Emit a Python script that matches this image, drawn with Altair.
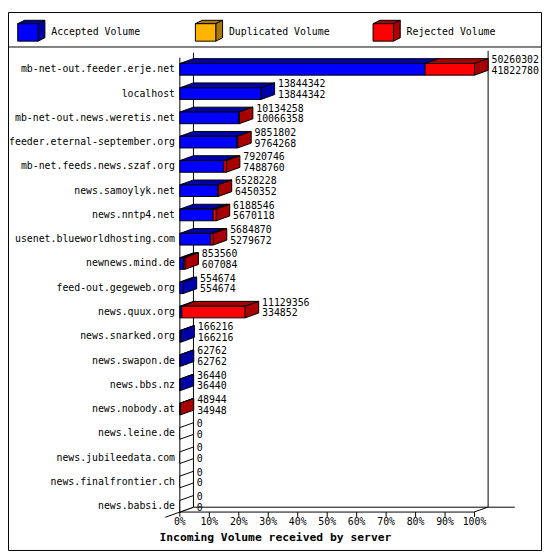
import altair as alt
import pandas as pd

# ---------------- data ----------------
servers = [
    "mb-net-out.feeder.erje.net", "localhost", "mb-net-out.news.weretis.net",
    "feeder.eternal-september.org", "mb-net.feeds.news.szaf.org", "news.samoylyk.net",
    "news.nntp4.net", "usenet.blueworldhosting.com", "newnews.mind.de",
    "feed-out.gegeweb.org", "news.quux.org", "news.snarked.org", "news.swapon.de",
    "news.bbs.nz", "news.nobody.at", "news.leine.de", "news.jubileedata.com",
    "news.finalfrontier.ch", "news.babsi.de",
]
total_volume = [50260302, 13844342, 10134258, 9851802, 7920746, 6528228, 6188546,
                5684870, 853560, 554674, 11129356, 166216, 62762, 36440, 48944,
                0, 0, 0, 0]
accepted_volume = [41822780, 13844342, 10066358, 9764268, 7488760, 6450352, 5670118,
                   5279672, 607084, 554674, 334852, 166216, 62762, 36440, 34948,
                   0, 0, 0, 0]
duplicated_volume = [0, 0, 0, 0, 0, 0, 0, 0, 0, 0, 0, 0, 0, 0, 0, 0, 0, 0, 0]

tick_values = [0, 10, 20, 30, 40, 50, 60, 70, 80, 90, 100]
legend_labels = ["Accepted Volume", "Duplicated Volume", "Rejected Volume"]
front_colors = ["#0000ff", "#ffb400", "#ff0000"]
shade_colors = ["#0000a8", "#a87800", "#a80000"]
title_text = "Incoming Volume received by server"

# ---------------- layout / style ----------------
S = 542 / 550          # overall scale of the picture
X0 = 177               # x of 0 % (reference px)
PPP = 3.035            # reference px per percent
ROW0 = 59              # centre of first row (reference px)
STEP = 25              # row pitch (reference px)
PL = X0 * S
PW = 542 - PL
PH = 515 * S
PB = 547 - PH
XMAX = (550 - X0) / PPP
RMIN = -ROW0 / STEP
RMAX = (515 - ROW0) / STEP
DX = 14 / PPP          # 3-D depth in percent units
DY = 5 / STEP          # 3-D depth in row units
HH = 6 / STEP          # half bar height in row units
FONT = "DejaVu Sans Mono"


def px(xref):
    return (xref - X0) * S


def py(yref):
    return yref * S


max_total = max(total_volume)

# ---------------- bar geometry from the data ----------------
fronts, polys, labels = [], [], []
pid = 0
for i, name in enumerate(servers):
    rej = total_volume[i] - accepted_volume[i] - duplicated_volume[i]
    segs = [(accepted_volume[i], 0), (duplicated_volume[i], 1), (rej, 2)]
    cum = 0
    last = None
    yt, yb = i - HH, i + HH
    for val, ci in segs:
        if val > 0:
            x0 = cum / max_total * 100
            x1 = (cum + val) / max_total * 100
            fronts.append(dict(x0=x0, x1=x1, y0=yt, y1=yb, c=front_colors[ci]))
            pts = [(x0, yt), (x1, yt), (x1 + DX, yt - DY), (x0 + DX, yt - DY), (x0, yt)]
            for k, (xx, yy) in enumerate(pts):
                polys.append(dict(pid=pid, k=k, x=xx, y=yy, c=shade_colors[ci]))
            pid += 1
            cum += val
            last = ci
    t = total_volume[i] / max_total * 100
    side_col = shade_colors[last] if last is not None else "#ffffff"
    pts = [(t, yt), (t + DX, yt - DY), (t + DX, yb - DY), (t, yb), (t, yt)]
    for k, (xx, yy) in enumerate(pts):
        polys.append(dict(pid=pid, k=k, x=xx, y=yy, c=side_col))
    pid += 1
    lx = t + 17.5 / PPP
    labels.append(dict(x=lx, y=i - 9.5 / STEP, text=str(total_volume[i])))
    labels.append(dict(x=lx, y=i + 1.5 / STEP, text=str(accepted_volume[i])))

front_df = pd.DataFrame(fronts)
poly_df = pd.DataFrame(polys)
label_df = pd.DataFrame(labels)
name_df = pd.DataFrame({"name": servers, "row": list(range(len(servers)))})
tick_df = pd.DataFrame({"v": tick_values, "lab": [f"{v}%" for v in tick_values]})

xs = alt.Scale(domain=[0, XMAX], nice=False, zero=False)
ys = alt.Scale(domain=[RMIN, RMAX], nice=False, zero=False, reverse=True)

top_side = alt.Chart(poly_df).mark_line(stroke="black", strokeWidth=1, interpolate="linear").encode(
    x=alt.X("x:Q", scale=xs, axis=None),
    y=alt.Y("y:Q", scale=ys, axis=None),
    detail="pid:N",
    order="k:Q",
    fill=alt.Fill("c:N", scale=None),
)

front = alt.Chart(front_df).mark_rect(stroke="black", strokeWidth=1).encode(
    x=alt.X("x0:Q", scale=xs, axis=None),
    x2="x1:Q",
    y=alt.Y("y0:Q", scale=ys, axis=None),
    y2="y1:Q",
    fill=alt.Fill("c:N", scale=None),
)

num_text = alt.Chart(label_df).mark_text(align="left", baseline="middle", font=FONT,
                                         fontSize=10, color="black").encode(
    x=alt.X("x:Q", scale=xs, axis=None), y=alt.Y("y:Q", scale=ys, axis=None), text="text:N")

name_text = alt.Chart(name_df).mark_text(align="right", baseline="middle", font=FONT,
                                         fontSize=10, color="black").encode(
    x=alt.value(px(172)), y=alt.Y("row:Q", scale=ys, axis=None), text="name:N")

tick_marks = alt.Chart(tick_df).mark_rule(color="black", strokeWidth=1).encode(
    x=alt.X("v:Q", scale=xs, axis=None), y=alt.value(py(515)), y2=alt.value(py(520)))
tick_labels = alt.Chart(tick_df).mark_text(align="center", baseline="middle", font=FONT,
                                           fontSize=10, color="black").encode(
    x=alt.X("v:Q", scale=xs, axis=None), y=alt.value(py(525.5)), text="lab:N")

# ---------------- frame (pixel decorations) ----------------
frame_segments = [
    (191, 42, 191, 510),      # back-left wall edge
    (177, 47, 177, 515),      # front-left wall edge
    (177, 515, 480, 515),     # front floor edge
    (191, 510, 522, 510),     # back floor edge
    (162, 520.4, 191, 510),   # left floor diagonal
    (480, 515, 494, 510),     # right floor diagonal
    (494.5, 40, 494.5, 510),  # back-right edge
    (0, 36, 550, 36),         # legend separator
]
frame_df = pd.DataFrame([dict(a=px(a), b=py(b), c=px(c), d=py(d)) for a, b, c, d in frame_segments])
frame = alt.Chart(frame_df).mark_rule(color="black", strokeWidth=1).encode(
    x=alt.X("a:Q", scale=None, axis=None), y=alt.Y("b:Q", scale=None, axis=None),
    x2="c:Q", y2="d:Q")

border = alt.Chart(pd.DataFrame({"k": [0]})).mark_rect(fill="white", stroke="black", strokeWidth=1).encode(
    x=alt.value(-PL + 0.5), x2=alt.value(PW - 0.5), y=alt.value(0.5), y2=alt.value(546.5))

# ---------------- legend ----------------
leg_front, leg_poly, leg_text = [], [], []
lp = 0
for j, lab in enumerate(legend_labels):
    bx = 10 + 183 * j
    leg_front.append(dict(x0=px(bx), x1=px(bx + 21), y0=py(12), y1=py(30), c=front_colors[j]))
    top = [(bx, 12), (bx + 21, 12), (bx + 28, 8.5), (bx + 7, 8.5), (bx, 12)]
    side = [(bx + 21, 12), (bx + 28, 8.5), (bx + 28, 26.5), (bx + 21, 30), (bx + 21, 12)]
    for shape in (top, side):
        for k, (a, b) in enumerate(shape):
            leg_poly.append(dict(pid=lp, k=k, x=px(a), y=py(b), c=shade_colors[j]))
        lp += 1
    leg_text.append(dict(x=px(bx + 34.5), y=py(21), text=lab))

leg_front_l = alt.Chart(pd.DataFrame(leg_front)).mark_rect(stroke="black", strokeWidth=1).encode(
    x=alt.X("x0:Q", scale=None, axis=None), x2="x1:Q",
    y=alt.Y("y0:Q", scale=None, axis=None), y2="y1:Q",
    fill=alt.Fill("c:N", scale=None))
leg_poly_l = alt.Chart(pd.DataFrame(leg_poly)).mark_line(stroke="black", strokeWidth=1).encode(
    x=alt.X("x:Q", scale=None, axis=None), y=alt.Y("y:Q", scale=None, axis=None),
    detail="pid:N", order="k:Q", fill=alt.Fill("c:N", scale=None))
leg_text_l = alt.Chart(pd.DataFrame(leg_text)).mark_text(align="left", baseline="middle", font=FONT,
                                                         fontSize=10, color="black").encode(
    x=alt.X("x:Q", scale=None, axis=None), y=alt.Y("y:Q", scale=None, axis=None), text="text:N")

title_l = alt.Chart(pd.DataFrame({"t": [title_text]})).mark_text(
    align="left", baseline="middle", font=FONT, fontSize=11.5, fontWeight="bold", color="black").encode(
    x=alt.value(px(156)), y=alt.value(py(541.5)), text="t:N")

chart = alt.layer(
    border, frame, leg_poly_l, leg_front_l, leg_text_l,
    top_side, front, num_text, name_text, tick_marks, tick_labels, title_l,
).properties(
    width=PW, height=PH,
    padding={"left": PL, "top": 0, "right": 0, "bottom": PB},
    autosize=alt.AutoSizeParams(type="none"),
    background="white",
).configure_view(strokeWidth=0)

chart.save("out.html", embed_options={"renderer": "svg", "actions": False})
